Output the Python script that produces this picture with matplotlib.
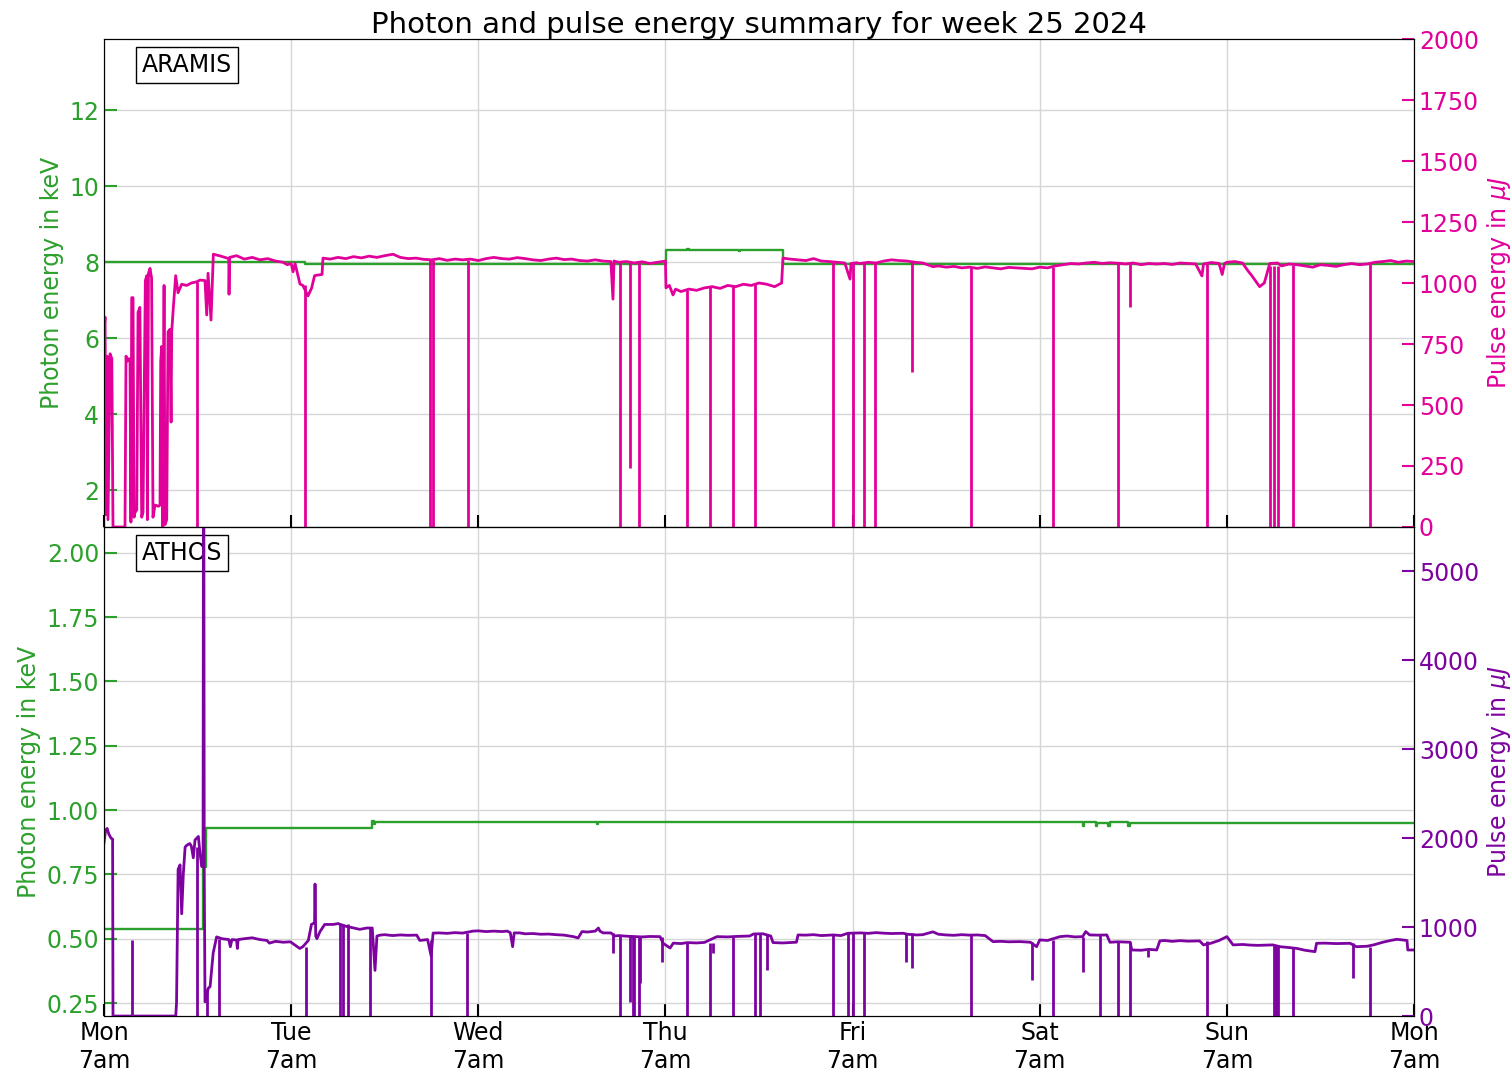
import matplotlib.pyplot as plt

# time axis in hours since Mon 7am
day_ticks = [0, 24, 48, 72, 96, 120, 144, 168]
day_labels = ["Mon\n7am", "Tue\n7am", "Wed\n7am", "Thu\n7am", "Fri\n7am", "Sat\n7am", "Sun\n7am", "Mon\n7am"]

# ARAMIS photon energy (keV), step values
aramis_kev_h = [0, 25.8, 72.07, 74.8, 75.0, 81.4, 81.6, 87.07, 168]
aramis_kev = [7.99, 7.95, 8.32, 8.35, 8.32, 8.29, 8.32, 7.95, 7.95]

# ARAMIS pulse energy (uJ)
aramis_uj_h = [0.0, 0.13, 0.26, 0.4, 0.51, 0.77, 1.0, 1.15, 2.69, 2.82, 3.0, 3.2, 3.33, 3.45, 3.55, 3.72,
               3.85, 3.98, 4.2, 4.36, 4.6, 4.83, 5.0, 5.3, 5.48, 5.56, 5.7, 5.9, 6.1, 6.28, 6.54, 7.0,
               7.18, 7.27, 7.4, 7.53, 7.7, 7.82, 8.04, 8.21, 8.46, 8.6, 8.68, 8.89, 9.19, 9.49, 9.96,
               10.6, 11.2, 11.89, 12.31, 12.95, 13.17, 13.34, 13.72, 14.02, 15, 16, 16.03, 16.1, 17,
               18, 19, 20, 21, 22, 22.95, 23.5, 24, 24.24, 24.5, 25.13, 25.5, 26.16, 26.63, 27.0,
               27.31, 27.96, 28.08, 29, 30, 31, 32, 33, 34, 35, 36, 37.06, 38, 39, 40, 41, 42, 43,
               44, 45, 46, 47, 48, 49, 50, 51, 52, 53, 54, 55, 56, 57, 58, 59, 60, 61, 62, 63, 64,
               65, 65.27, 65.4, 66, 67, 68, 69, 70, 71, 72.0, 72.07, 72.5, 72.97, 73.3, 74, 75, 76,
               77, 78, 79, 80, 81, 82, 83, 84, 85, 86, 86.9, 87.07, 88, 89, 90, 91, 92, 93, 94, 95,
               95.67, 95.8, 96.5, 97, 98, 99, 100, 101, 102, 103, 104, 105, 106.3, 107, 108, 109,
               110, 111, 112, 113, 114, 115, 116, 117.5, 118, 119, 120, 121, 122, 123, 124, 125,
               126, 127, 128, 129, 130.5, 131, 132, 133, 134, 135, 136, 137, 138, 139, 140, 140.8,
               141, 142, 143, 143.4, 143.7, 144, 145, 146, 146.7, 147.2, 148.2, 148.8, 149.5,
               150.5, 151, 152, 153, 154, 155, 156, 157, 158, 159, 160, 161, 162, 163, 164, 165,
               166, 167, 168]
aramis_uj = [800, 860, 50, 700, 30, 710, 690, 0, 0, 700, 680, 690, 680, 20, 940, 940,
             40, 60, 70, 880, 900, 40, 60, 1010, 1030, 30, 1040, 1060, 1020, 40, 90, 85,
             90, 680, 740, 0, 990, 10, 30, 800, 810, 430, 800, 900, 1030, 960, 995,
             990, 1000, 1005, 1012, 1010, 869, 1040, 848, 1118, 1110, 1100, 954, 1105, 1112,
             1098, 1105, 1095, 1100, 1090, 1085, 1075, 1080, 1046, 1080, 996, 990, 947, 980, 1030,
             1032, 1035, 1102, 1098, 1105, 1100, 1108, 1103, 1110, 1105, 1112, 1118, 1105, 1100, 1102, 1097, 1095, 1100,
             1093, 1098, 1095, 1098, 1092, 1100, 1105, 1100, 1098, 1104, 1100, 1095, 1092, 1098, 1102, 1096, 1098, 1092, 1090, 1095, 1090,
             1088, 934, 1090, 1085, 1088, 1082, 1087, 1080, 1085, 1090, 980, 990, 951, 975, 965, 975, 970,
             980, 985, 978, 990, 985, 995, 990, 1000, 995, 985, 1000, 1102, 1098, 1095, 1092, 1100, 1090, 1088, 1085, 1082,
             1016, 1080, 1083, 1080, 1085, 1082, 1090, 1095, 1092, 1090, 1085, 1082, 1067, 1070, 1065, 1068,
             1062, 1065, 1060, 1066, 1062, 1058, 1064, 1061, 1060, 1058, 1065, 1062, 1070, 1075, 1080, 1078,
             1082, 1085, 1080, 1083, 1080, 1078, 1082, 1075, 1080, 1078, 1080, 1076, 1082, 1080, 1078, 1029,
             1078, 1084, 1080, 1035, 1080, 1085, 1088, 1082, 1050, 1030, 985, 1000, 1080,
             1082, 1070, 1078, 1075, 1070, 1065, 1075, 1072, 1068, 1075, 1080, 1075, 1078, 1085, 1088, 1092,
             1085, 1090, 1088]

# ARAMIS drop-outs: hour, lowest value, level before the drop
aramis_drop_h = [11.89, 25.78, 41.81, 42.19, 46.64, 66.17, 67.45, 68.6, 74.76, 77.71, 80.66, 83.48,
                 93.49, 96.05, 97.46, 98.87, 103.6, 111.2, 121.7, 130.0, 131.6, 141.5, 149.5,
                 150.0, 150.5, 152.5, 162.4]
aramis_drop_lo = [0, 0, 0, 0, 0, 0, 242, 0, 0, 0, 0, 0,
                  0, 0, 0, 0, 636, 0, 0, 0, 901, 0, 0,
                  0, 0, 0, 0]
aramis_drop_hi = [1005, 990, 1100, 1095, 1095, 1085, 1088, 1082, 970, 985, 990, 1000,
                  1088, 1083, 1080, 1085, 1088, 1065, 1065, 1080, 1080, 1078, 1070,
                  1070, 1070, 1075, 1078]

# ATHOS photon energy (keV), step values
athos_kev_h = [0, 12.7, 13.1, 34.4, 34.6, 34.8, 63.2, 63.4, 125.5, 125.7, 127.2, 127.4, 128.8, 129.0,
               131.3, 131.6, 168]
athos_kev = [0.538, 0.78, 0.932, 0.958, 0.945, 0.953, 0.946, 0.953, 0.937, 0.952, 0.938, 0.951, 0.94, 0.952,
             0.937, 0.951, 0.951]

# ATHOS pulse energy (uJ)
athos_uj_h = [0.0, 0.2, 0.4, 0.6, 0.9, 1.1, 1.15, 9.2, 9.3, 9.5, 9.75, 9.96, 10.17, 10.4, 10.6, 11.0,
              11.2, 11.45, 11.67, 12.1, 12.3, 12.53, 12.7, 12.75, 12.8, 12.85, 12.95, 13.38, 13.6,
              14.0, 14.44, 15.1, 16.0, 16.2, 16.4, 17.0, 17.1, 17.2, 18, 19, 20, 20.9, 21.2, 22, 23,
              23.9, 24.3, 25.1, 25.5, 26.2, 26.6, 27.0, 27.06, 27.15, 27.3, 27.7, 28.3, 29.4, 30.0,
              31.0, 32.0, 32.8, 33.7, 34.4, 34.75, 35.0, 35.4, 36, 37, 38, 39, 40.1, 40.5, 41.5,
              41.95, 42.2, 43, 44, 45, 46, 47.3, 48, 49, 50, 51, 51.7, 52.1, 52.4, 52.6, 53.3, 54,
              55, 56, 57, 58, 59, 60.2, 60.8, 61.3, 62, 63, 63.4, 63.6, 64, 65, 65.5, 66, 67, 68.3,
              69, 70, 71.3, 71.7, 72.6, 73, 74, 74.8, 76, 77, 78.6, 80, 81, 82.8, 83.3, 84.5, 85.5,
              85.8, 87, 88.8, 89, 90, 91, 92, 93.5, 94.5, 95.4, 97, 98, 99, 100, 101, 102.5, 103,
              104.2, 105, 106.3, 107, 108, 109, 110, 111, 112, 113, 114, 115, 116, 117.5, 118.8,
              119.6, 120, 121, 122.6, 123.5, 124.5, 125.5, 125.9, 126.4, 127.5, 128.6, 129, 130,
              131.6, 131.8, 133, 134, 135, 135.4, 136, 137, 138, 139, 140.5, 141, 142, 143, 144,
              144.8, 146, 147, 148, 149.9, 150.8, 152, 153, 154, 155.3, 155.5, 156.5, 158, 159.8,
              160.6, 162, 162.8, 164, 165, 165.8, 166.5, 167.1, 167.2, 168]
athos_uj = [1950, 2090, 2110, 2050, 2000, 1990, 0, 0, 150, 1650, 1700, 1150, 1600, 1900, 1920, 1940,
            1910, 1780, 1980, 2020, 1840, 1680, 1700, 6000, 6000, 1650, 160, 315, 330,
            710, 890, 870, 860, 780, 860, 855, 760, 860, 870, 880, 860, 850, 820, 840, 830,
            835, 810, 760, 780, 850, 1030, 1050, 1484, 900, 870, 950, 1030, 1030, 1040,
            1010, 990, 975, 990, 990, 513, 900, 910, 915, 905, 912, 908, 910, 850, 860,
            675, 933, 935, 930, 938, 933, 955, 958, 950, 955, 950, 955, 938, 780, 935, 935, 925,
            928, 920, 922, 915, 910, 893, 878, 950, 945, 955, 990, 955, 935, 935, 900, 905, 898, 893,
            890, 895, 893, 818, 765, 820, 815, 826, 822, 828, 893, 890, 895, 900, 923, 925, 900,
            826, 822, 830, 912, 910, 915, 905, 912, 905, 931, 935, 930, 938, 932, 928, 931, 920,
            912, 915, 947, 920, 912, 908, 915, 910, 912, 905, 837, 840, 835, 837, 830,
            780, 856, 850, 893, 900, 890, 893, 950, 912, 910, 912, 830, 835,
            830, 743, 740, 750, 743, 845, 850, 840, 848, 842, 845, 800, 820, 850, 893,
            800, 805, 798, 795, 800, 780, 770, 760, 740, 724, 818, 820, 815, 818,
            780, 785, 800, 830, 850, 863, 856, 850, 743, 743]

# ATHOS drop-outs: hour, lowest value, level before the drop
athos_drop_h = [3.55, 11.9, 13.17, 14.8, 25.9, 30.3, 30.7, 31.3, 34.1, 41.9, 46.5, 65.3, 66.2, 67.5,
                67.8, 68.0, 68.6, 68.7, 71.6, 74.7, 77.7, 78.1, 80.7, 83.5, 84.1, 85.0, 93.5, 95.4,
                96.1, 97.5, 102.9, 103.6, 111.2, 119.0, 121.7, 125.6, 127.7, 130.1, 131.6, 133.9,
                141.5, 150.0, 150.3, 150.6, 152.5, 160.2, 162.4]
athos_drop_lo = [0, 0, 0, 0, 0, 0, 0, 0, 0, 0, 0, 713, 0, 161,
                 0, 0, 0, 371, 612, 0, 0, 706, 0, 0, 0, 518, 0, 0,
                 0, 0, 612, 537, 0, 405, 0, 499, 0, 0, 0, 668,
                 0, 0, 0, 0, 0, 425, 0]
athos_drop_hi = [850, 1900, 300, 870, 780, 1030, 1030, 1030, 990, 850, 930, 935, 900, 900,
                 900, 900, 893, 893, 893, 818, 826, 826, 893, 923, 923, 923, 912, 931,
                 931, 931, 931, 931, 912, 837, 856, 893, 912, 830, 830, 743,
                 845, 800, 800, 800, 780, 818, 780]

green = "#2ca02c"
magenta = "#e2009a"
purple = "#7d03a0"
fs = 17


def draw_panel(ax, name, kev_h, kev, uj_h, uj, drop_h, drop_lo, drop_hi, color, kev_lim, uj_lim,
               kev_ticks, uj_ticks, kev_fmt):
    ax.plot(kev_h, kev, color=green, lw=1.7, drawstyle="steps-post")
    ax.set_ylim(kev_lim)
    ax.set_yticks(kev_ticks)
    ax.set_yticklabels([kev_fmt % v for v in kev_ticks])
    ax.set_ylabel("Photon energy in keV", color=green, fontsize=fs)
    ax.tick_params(axis="y", colors=green, direction="in", length=9, width=1.5, labelsize=fs)
    ax.tick_params(axis="x", direction="in", length=9, width=1.5, labelsize=fs, colors="black")
    ax.grid(True, color="#d6d6d6", lw=1)
    ax.set_axisbelow(True)
    ax.text(0.029, 0.972, name, transform=ax.transAxes, fontsize=fs, va="top", ha="left",
            bbox=dict(boxstyle="square,pad=0.25", fc="white", ec="black"))

    axr = ax.twinx()
    axr.plot(uj_h, uj, color=color, lw=2.0)
    axr.vlines(drop_h, drop_lo, drop_hi, colors=color, lw=2.0)
    axr.set_ylim(uj_lim)
    axr.set_yticks(uj_ticks)
    axr.set_ylabel("Pulse energy in $\\mu J$", color=color, fontsize=fs)
    axr.tick_params(axis="y", colors=color, direction="in", length=9, width=1.5, labelsize=fs)
    return axr


fig = plt.figure(figsize=(15.12, 10.72), dpi=100)
ax_top = fig.add_axes([0.0688, 0.5084, 0.8664, 0.4552])
ax_bot = fig.add_axes([0.0688, 0.0522, 0.8664, 0.4562], sharex=ax_top)

draw_panel(ax_top, "ARAMIS", aramis_kev_h, aramis_kev, aramis_uj_h, aramis_uj,
           aramis_drop_h, aramis_drop_lo, aramis_drop_hi, magenta, (1.03, 13.87), (0, 2000),
           [2, 4, 6, 8, 10, 12], [0, 250, 500, 750, 1000, 1250, 1500, 1750, 2000], "%d")
draw_panel(ax_bot, "ATHOS", athos_kev_h, athos_kev, athos_uj_h, athos_uj,
           athos_drop_h, athos_drop_lo, athos_drop_hi, purple, (0.2, 2.1), (0, 5500),
           [0.25, 0.5, 0.75, 1.0, 1.25, 1.5, 1.75, 2.0], [0, 1000, 2000, 3000, 4000, 5000], "%.2f")

ax_bot.set_xlim(0, 168)
ax_bot.set_xticks(day_ticks)
ax_bot.set_xticklabels(day_labels)
ax_top.tick_params(axis="x", labelbottom=False)

ax_top.set_title("Photon and pulse energy summary for week 25 2024", fontsize=21, pad=4)

fig.savefig("out.png", dpi=100)
